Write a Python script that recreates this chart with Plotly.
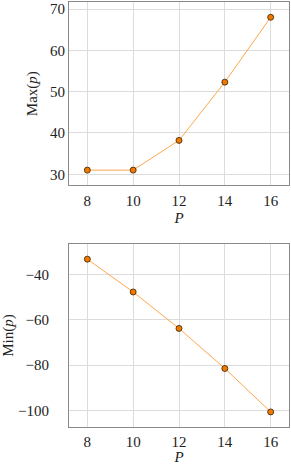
import plotly.graph_objects as go

P = [8, 10, 12, 14, 16]
max_p = [31, 31, 38.2, 52.3, 68]
min_p = [-33.2, -47.7, -63.8, -81.5, -100.7]
x_ticks = [8, 10, 12, 14, 16]
top_ticks = [30, 40, 50, 60, 70]
bot_ticks = [-100, -80, -60, -40]

FONT = "Liberation Serif, Times New Roman, serif"
LINE_C = "#ffa64d"
MARK_C = "#f07a00"

fig = go.Figure()
for vals, xa, ya in [(max_p, "x", "y"), (min_p, "x2", "y2")]:
    fig.add_trace(go.Scatter(
        x=P, y=vals, xaxis=xa, yaxis=ya, mode="lines+markers",
        line=dict(color=LINE_C, width=1),
        marker=dict(color=MARK_C, size=6, line=dict(color="#3a2000", width=0.8)),
        showlegend=False, hoverinfo="skip"))

ax_common = dict(showline=True, mirror=True, linecolor="#8a8a8a", linewidth=1,
                 showgrid=True, gridcolor="#dcdcdc", gridwidth=1, zeroline=False,
                 ticks="", tickfont=dict(family=FONT, size=15, color="#222"),
                 title_font=dict(family=FONT, size=15, color="#222"))

xd = [69 / 291, 289 / 291]
fig.update_layout(
    width=291, height=465, margin=dict(l=0, r=0, t=0, b=0),
    font=dict(family=FONT),
    paper_bgcolor="white", plot_bgcolor="white",
    xaxis=dict(domain=xd, anchor="y", range=[7.2, 16.8], tickvals=x_ticks,
               title=dict(text="<i>P</i>", standoff=4), ticklabelstandoff=2, **ax_common),
    yaxis=dict(domain=[1 - 185.4 / 465, 1 - 2 / 465], anchor="x", range=[27.3, 71.7],
               tickvals=top_ticks, ticklabelstandoff=0,
               title=dict(text="Max(<i>p</i>)", standoff=8), **ax_common),
    xaxis2=dict(domain=xd, anchor="y2", range=[7.2, 16.8], tickvals=x_ticks,
                title=dict(text="<i>P</i>", standoff=1), ticklabelstandoff=1, **ax_common),
    yaxis2=dict(domain=[1 - 427.2 / 465, 1 - 244 / 465], anchor="x2", range=[-107.45, -26.5],
                tickvals=bot_ticks, ticklabelstandoff=16,
                title=dict(text="Min(<i>p</i>)", standoff=6), **ax_common),
)
fig.write_html("out.html", config={"displayModeBar": False, "staticPlot": True},
               post_script="document.body.style.margin='0';document.body.style.overflow='hidden';")
